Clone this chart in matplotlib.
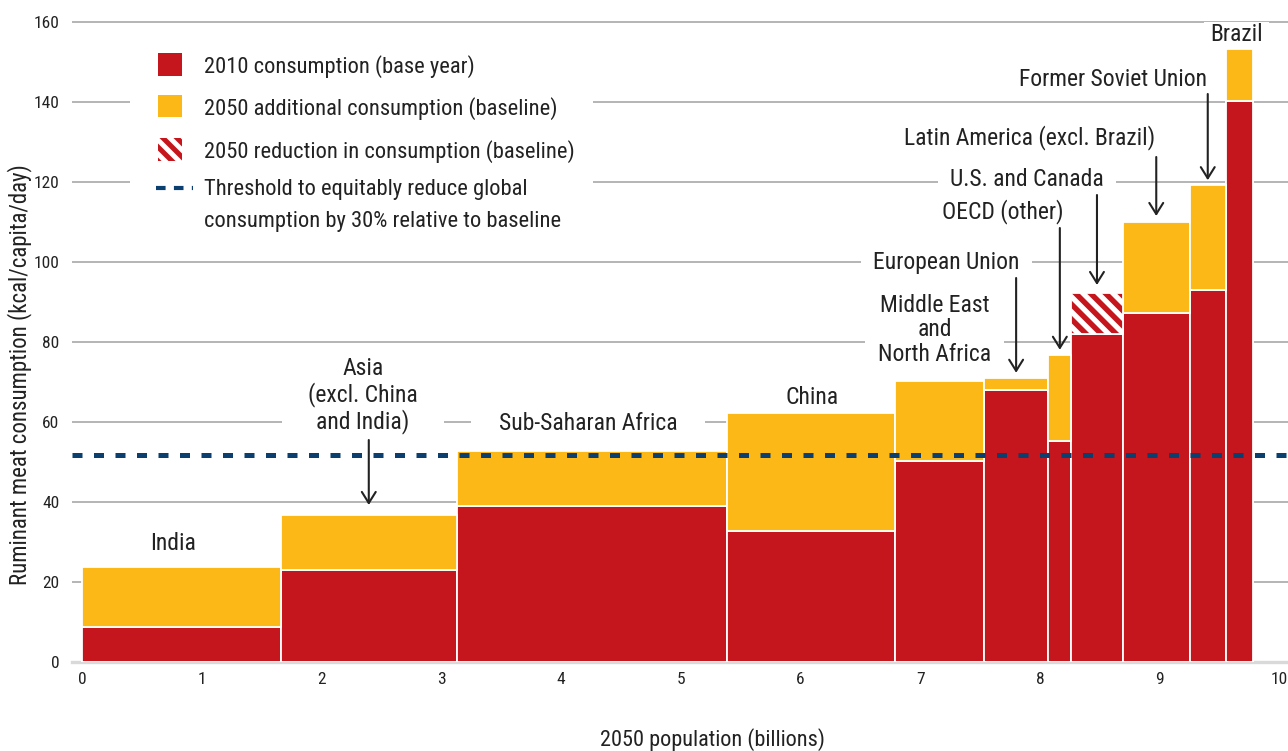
import matplotlib
matplotlib.use("Agg")
import matplotlib.pyplot as plt
from matplotlib.patches import Rectangle
from matplotlib.path import Path
from matplotlib.lines import Line2D
from matplotlib.transforms import IdentityTransform

# ---------------- data ----------------
regions = ["India", "Asia\n(excl. China\nand India)", "Sub-Saharan Africa", "China",
           "Middle East\nand\nNorth Africa", "European Union", "OECD (other)",
           "U.S. and Canada", "Latin America (excl. Brazil)", "Former Soviet Union", "Brazil"]
population_2050 = [1.66, 1.47, 2.26, 1.40, 0.74, 0.54, 0.19, 0.43, 0.56, 0.30, 0.23]
consumption_2010 = [8.75, 23.0, 39.0, 32.75, 50.25, 68.0, 55.25, 92.25, 87.25, 93.0, 140.25]
consumption_2050 = [23.75, 36.75, 52.75, 62.25, 70.25, 71.0, 76.75, 82.0, 110.0, 119.25, 153.25]
threshold = 51.75
x_ticks = [0, 1, 2, 3, 4, 5, 6, 7, 8, 9, 10]
y_ticks = [0, 20, 40, 60, 80, 100, 120, 140, 160]
legend_labels = ["2010 consumption (base year)", "2050 additional consumption (baseline)",
                 "2050 reduction in consumption (baseline)",
                 "Threshold to equitably reduce global", "consumption by 30% relative to baseline"]

# ---------------- layout / style ----------------
RED = "#C4161C"
YEL = "#FBB817"
BLUE = "#0B3F6F"
TXT = "#222222"
GRID = "#A8A8A8"
FAM = ["Liberation Sans Narrow", "Roboto Condensed", "DejaVu Sans"]
plt.rcParams["font.family"] = FAM

W, H = 1288, 751
fig = plt.figure(figsize=(W / 100, H / 100), dpi=100)
# axes: left px 72, right px 1288, bottom px 662, top px 14
ax = fig.add_axes([72 / W, 1 - 662 / H, (1288 - 72) / W, (662 - 14) / H])
ax.set_xlim(-0.083, 10.07)
ax.set_ylim(0, 162)

# label positions (data coords), arrow tails, box paddings (px)
label_pos = [(0.76, 29.75), (2.346, 66.6), (4.224, 59.75), (6.10, 66.25), (7.12, 83.0),
             (7.22, 99.75), (7.688, 112.5), (7.888, 120.75), (7.913, 131.0), (8.606, 145.5),
             (9.641, 156.8)]
arrow_tail = [None, 55.5, None, None, None, 96.0, 108.5, 116.75, 126.25, 142.0, None]
arrow_gap = [0, 2.5, 0, 0, 0, 1.3, 1.3, 2.0, 1.5, 1.2, 0]
box_pad = [6, 26, 28, 6, 13, 12, 6, 12, 6, 6, 6]


class HPadBox:
    def __init__(self, px, py):
        self.px, self.py = px, py

    def __call__(self, x0, y0, width, height, mutation_size):
        px, py = self.px, self.py
        return Path([(x0 - px, y0 - py), (x0 + width + px, y0 - py),
                     (x0 + width + px, y0 + height + py), (x0 - px, y0 + height + py),
                     (x0 - px, y0 - py)], closed=True)


def add_stripes(container, clip_patch, x0, y0, x1, y1, period=15.0, lw_px=5.4, z=3.05):
    """Diagonal (\\) red stripes in display pixels, clipped to clip_patch."""
    k = x0 + y0 - period
    while k <= x1 + y1 + period:
        ln = Line2D([k - y1 - 5, k - y0 + 5], [y1 + 5, y0 - 5], transform=IdentityTransform(),
                    color=RED, lw=lw_px * 0.72, solid_capstyle="butt", zorder=z)
        container.add_artist(ln)
        ln.set_clip_path(clip_patch)
        k += period


# ---------------- bars ----------------
lefts = []
acc = 0.0
for w in population_2050:
    lefts.append(acc)
    acc += w

base = [min(a, b) for a, b in zip(consumption_2010, consumption_2050)]
add = [max(b - a, 0) for a, b in zip(consumption_2010, consumption_2050)]
red_ = [max(a - b, 0) for a, b in zip(consumption_2010, consumption_2050)]

ax.bar(lefts, base, width=population_2050, align="edge", color=RED,
       edgecolor="white", linewidth=1.3, zorder=3)
ax.bar(lefts, add, bottom=base, width=population_2050, align="edge", color=YEL,
       edgecolor="white", linewidth=1.3, zorder=3)
for l, w, b, r in zip(lefts, population_2050, base, red_):
    if r <= 0:
        continue
    cont = ax.bar([l], [r], bottom=[b], width=[w], align="edge", color="white",
                  edgecolor="none", linewidth=0, zorder=3)
    patch = cont.patches[0]
    (dx0, dy0), (dx1, dy1) = ax.transData.transform([(l, b), (l + w, b + r)])
    add_stripes(ax, patch, dx0, dy0, dx1, dy1)
    ax.bar([l], [r], bottom=[b], width=[w], align="edge", fill=False,
           edgecolor="white", linewidth=1.3, zorder=3.1)

# threshold line
ax.axhline(threshold, color=BLUE, lw=3.6, dashes=(2.0, 2.3), zorder=4)

# ---------------- labels & arrows ----------------
for i, name in enumerate(regions):
    x, y = label_pos[i]
    ax.text(x, y, name, ha="center", va="center", fontsize=17, color=TXT,
            linespacing=1.1, zorder=2.5,
            bbox=dict(boxstyle=HPadBox(box_pad[i], 1), fc="white", ec="none"))
    if arrow_tail[i] is not None:
        xc = lefts[i] + population_2050[i] / 2
        top = max(consumption_2010[i], consumption_2050[i])
        ax.annotate("", xy=(xc, top + arrow_gap[i]), xytext=(xc, arrow_tail[i]),
                    arrowprops=dict(arrowstyle="->,head_length=0.4,head_width=0.25",
                                    color=TXT, lw=1.5, shrinkA=0, shrinkB=0,
                                    mutation_scale=20),
                    zorder=5)

# ---------------- axes styling ----------------
ax.set_xticks(x_ticks)
ax.set_yticks(y_ticks)
ax.tick_params(axis="both", length=0, labelsize=12.5, labelcolor=TXT)
ax.tick_params(axis="x", pad=7)
ax.tick_params(axis="y", pad=9)
ax.yaxis.grid(True, color=GRID, lw=1.2, zorder=0.5)
ax.set_axisbelow(True)
for s in ["top", "right", "left"]:
    ax.spines[s].set_visible(False)
ax.spines["bottom"].set_color("#D9D9D9")
ax.spines["bottom"].set_linewidth(2.4)
ax.spines["bottom"].set_zorder(2)
ax.set_xlabel("2050 population (billions)", fontsize=16, color=TXT, labelpad=30)
ax.xaxis.label.set_x((712 - 72) / (1288 - 72))
ax.set_ylabel("Ruminant meat consumption (kcal/capita/day)", fontsize=16.5, color=TXT, labelpad=1)
ax.yaxis.label.set_y((662 - 375) / (662 - 14))


# ---------------- legend (drawn manually) ----------------
def P(px, py):
    return (px / W, 1 - py / H)


def R(x0, y0, x1, y1, **kw):
    (fx0, fy1), (fx1, fy0) = P(x0, y0), P(x1, y1)
    r = Rectangle((fx0, fy0), fx1 - fx0, fy1 - fy0, transform=fig.transFigure, **kw)
    fig.add_artist(r)
    return r


R(130, 44, 593, 238, fc="white", ec="none", zorder=1)
R(158, 53, 182, 76, fc=RED, ec="none", zorder=2)
R(158, 95, 182, 117, fc=YEL, ec="none", zorder=2)
hp = R(158, 138, 182, 161, fc="white", ec="none", zorder=2)
add_stripes(fig, hp, 158, H - 161, 182, H - 138, period=14.0, lw_px=5.0, z=2.1)
(lx0, ly), (lx1, _) = P(156, 188), P(193, 188)
fig.add_artist(Line2D([lx0, lx1], [ly, ly], transform=fig.transFigure, color=BLUE,
                      lw=3.0, dashes=(2.3, 2.0), zorder=2))
for txt, py in zip(legend_labels, [67, 109, 152, 190, 222]):
    fx, fy = P(204, py)
    fig.text(fx, fy, txt, ha="left", va="center", fontsize=16.2, color=TXT, zorder=3)

fig.savefig("out.png", dpi=100)
